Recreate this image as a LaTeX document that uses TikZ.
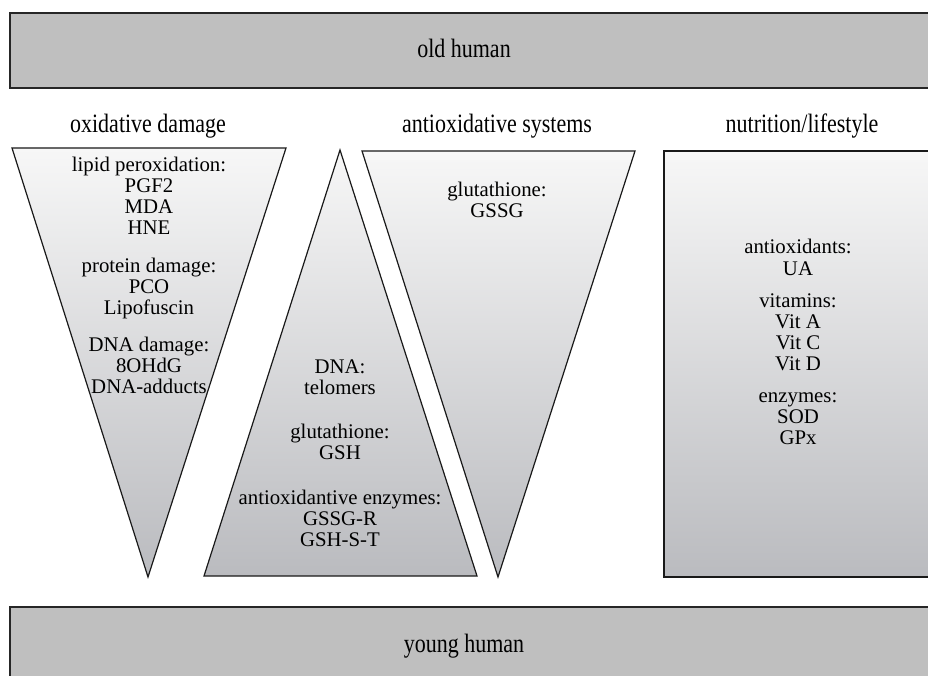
\documentclass[tikz,border=0pt]{standalone}
\usepackage{graphicx}
\usepackage{fontspec}
\setmainfont{Liberation Serif}
\definecolor{barfill}{RGB}{191,191,191}
\definecolor{gradtop}{RGB}{247,247,247}
\definecolor{gradbot}{RGB}{186,187,191}
\tikzset{
  bar/.style={draw=black!85, line width=1.8pt, fill=barfill},
  shapebox/.style={draw=black!90, line width=1.2pt, top color=gradtop, bottom color=gradbot, line join=miter},
  body/.style={font=\fontsize{20.8}{21}\selectfont, inner sep=0pt, anchor=base},
  head/.style={inner sep=0pt, anchor=base},
}
\newcommand{\hd}[1]{\scalebox{0.83}[1]{\fontsize{26.5}{26.5}\selectfont #1}}
\begin{document}
\begin{tikzpicture}[x=1pt,y=-1pt]
\useasboundingbox (0,0) rectangle (928,676);
\fill[white] (0,0) rectangle (928,676);
% bars
\draw[bar] (10,13) rectangle (940,88);
\draw[bar] (10,607) rectangle (940,700);
\node[head] (old) at (464,58) {\hd{old human}};
\node[head] (young) at (464,652) {\hd{young human}};
% column titles
\node[head] (t1) at (148,133) {\hd{oxidative damage}};
\node[head] (t2) at (497,133) {\hd{antioxidative systems}};
\node[head] (t3) at (802,133) {\hd{nutrition/lifestyle}};
% shapes
\draw[shapebox] (12,148) -- (286,148) -- (148,577) -- cycle;
\draw[shapebox] (340,150) -- (477,576) -- (204,576) -- cycle;
\draw[shapebox] (362,151) -- (635,151) -- (498,577) -- cycle;
\draw[shapebox] (664,151) rectangle (940,577);
% left triangle texts
\foreach \t/\y [count=\i] in {lipid peroxidation:/172, PGF2/193, MDA/214, HNE/235,
  protein damage:/272, PCO/293, Lipofuscin/314,
  DNA damage:/351, 8OHdG/372, DNA-adducts/393}
  \node[body] (a\i) at (149,\y) {\t};
% middle triangle texts
\foreach \t/\y [count=\i] in {DNA:/373, telomers/394,
  glutathione:/438, GSH/459,
  antioxidantive enzymes:/504, GSSG-R/525, GSH-S-T/546}
  \node[body] (b\i) at (340,\y) {\t};
% inverted right triangle texts
\node[body] (c1) at (497,197) {glutathione:};
\node[body] (c2) at (497,218) {GSSG};
% rectangle texts
\foreach \t/\y [count=\i] in {antioxidants:/254, UA/275,
  vitamins:/307, Vit A/328, Vit C/349, Vit D/370,
  enzymes:/402, SOD/423, GPx/444}
  \node[body] (d\i) at (798,\y) {\t};
\end{tikzpicture}
\end{document}
